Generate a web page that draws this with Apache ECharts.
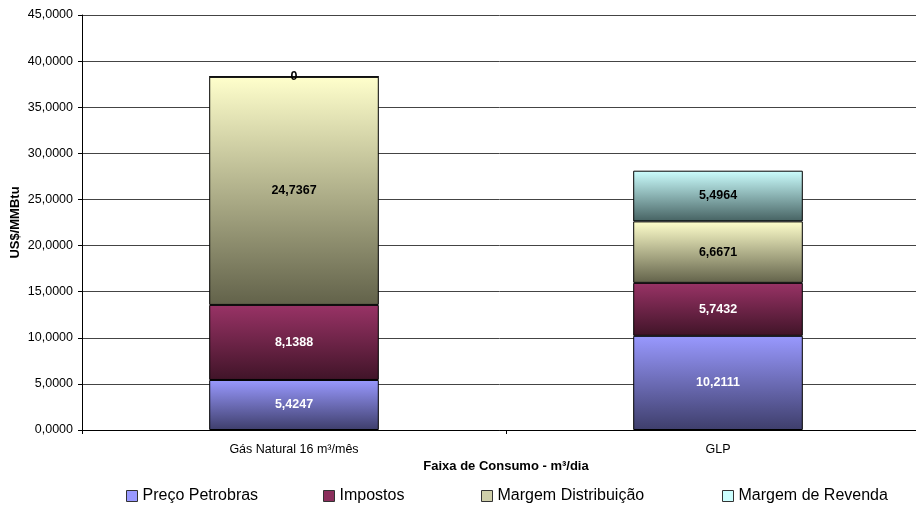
<!DOCTYPE html>
<html>
<head>
<meta charset="utf-8">
<script src="https://cdn.jsdelivr.net/npm/echarts@6/dist/echarts.min.js"></script>
<style>html,body{margin:0;padding:0;background:#fff}#c{width:916px;height:513px}</style>
</head>
<body>
<div id="c"></div>
<script>
var categories = ['Gás Natural 16 m³/mês', 'GLP'];
var precoPetrobras = [5.4247, 10.2111];
var impostos = [8.1388, 5.7432];
var margemDistribuicao = [24.7367, 6.6671];
var margemRevenda = [0, 5.4964];
var yTicks = [0, 5, 10, 15, 20, 25, 30, 35, 40, 45];
var seriesNames = ['Preço Petrobras', 'Impostos', 'Margem Distribuição', 'Margem de Revenda'];

var FONT = '"Liberation Sans", Arial, sans-serif';
function grad(top, bottom) {
  return new echarts.graphic.LinearGradient(0, 0, 0, 1, [{offset: 0, color: top}, {offset: 1, color: bottom}]);
}
function fmt(v) { return v === 0 ? '0' : v.toFixed(4).replace('.', ','); }

var colors = [
  grad('#9999FF', '#3E3E6B'),
  grad('#993366', '#401428'),
  grad('#FFFFCC', '#62624A'),
  grad('#CCFFFF', '#466262')
];
var legendColors = ['#9999FF', '#8B2F5C', '#CFCFAA', '#CCFFFF'];
var labelColors = ['#FFFFFF', '#FFFFFF', '#000000', '#000000'];
var dataSets = [precoPetrobras, impostos, margemDistribuicao, margemRevenda];
var legendLeft = [126, 323, 481, 722];

var chart = echarts.init(document.getElementById('c'), null, {renderer: 'canvas'});
var series = seriesNames.map(function (n, i) {
  return {
    name: n, type: 'bar', stack: 'total', barWidth: '40%',
    data: dataSets[i],
    itemStyle: {color: colors[i], borderColor: '#000', borderWidth: 1},
    label: {show: true, position: 'inside', color: labelColors[i], fontFamily: FONT, fontSize: 12.5, fontWeight: 'bold',
      formatter: function (p) { return fmt(p.value); }},
    emphasis: {disabled: true},
    animation: false
  };
});
var legends = seriesNames.map(function (n, i) {
  return {
    data: [{name: n, itemStyle: {color: legendColors[i], borderColor: '#333', borderWidth: 1}}],
    left: legendLeft[i], top: 488, itemWidth: 11, itemHeight: 11, itemGap: 5, icon: 'rect',
    textStyle: {fontFamily: FONT, fontSize: 16, color: '#000'}, selectedMode: false, padding: 0
  };
});
chart.setOption({
  animation: false,
  grid: {left: 82, width: 848, top: 15, bottom: 83, containLabel: false, outerBoundsMode: 'none'},
  legend: legends,
  xAxis: {
    type: 'category', data: categories,
    axisLine: {lineStyle: {color: '#000', width: 1}},
    axisTick: {show: true, length: 4, lineStyle: {color: '#000'}},
    axisLabel: {fontFamily: FONT, fontSize: 12.5, color: '#000', margin: 13},
    name: 'Faixa de Consumo - m³/dia', nameLocation: 'middle', nameGap: 30, nameMoveOverlap: false,
    nameTextStyle: {fontFamily: FONT, fontSize: 13, fontWeight: 'bold', color: '#000'}
  },
  yAxis: {
    type: 'value', min: yTicks[0], max: yTicks[yTicks.length - 1], interval: 5,
    axisLine: {show: true, lineStyle: {color: '#000', width: 1}},
    axisTick: {show: true, length: 4, lineStyle: {color: '#000'}},
    splitLine: {lineStyle: {color: '#444', width: 1}},
    axisLabel: {fontFamily: FONT, fontSize: 12.5, color: '#000', margin: 9,
      formatter: function (v) { return v.toFixed(4).replace('.', ','); }},
    name: 'US$/MMBtu', nameLocation: 'middle', nameGap: 60, nameMoveOverlap: false,
    nameTextStyle: {fontFamily: FONT, fontSize: 13, fontWeight: 'bold', color: '#000'}
  },
  series: series
});
</script>
</body>
</html>
